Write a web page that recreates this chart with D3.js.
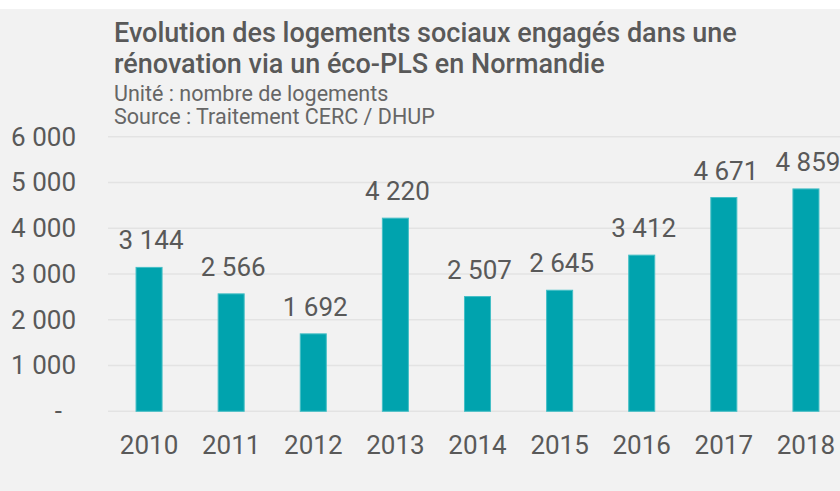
<!DOCTYPE html>
<html lang="fr">
<head>
  <meta charset="UTF-8">
  <title>Logements sociaux éco-PLS Normandie</title>
  <script src="https://d3js.org/d3.v7.min.js"></script>
  <style>
    html, body { margin: 0; padding: 0; background: #fff; }
    svg { display: block; font-family: Roboto, "Noto Sans", sans-serif; }
  </style>
</head>
<body>
  <svg></svg>
  <script>
  // Données (source : Traitement CERC / DHUP)
  const annees = ["2010", "2011", "2012", "2013", "2014", "2015", "2016", "2017", "2018"];
  const logements = [3144, 2566, 1692, 4220, 2507, 2645, 3412, 4671, 4859];
  const graduations = [0, 1000, 2000, 3000, 4000, 5000, 6000];
  const titre = ["Evolution des logements sociaux engagés dans une",
                 "rénovation via un éco-PLS en Normandie"];
  const sousTitre = ["Unité : nombre de logements", "Source : Traitement CERC / DHUP"];

  const width = 840, height = 491;
  const gris = "#595959";

  const svg = d3.select("svg")
    .attr("width", width)
    .attr("height", height);

  // fond gris sous une fine bande blanche
  svg.append("rect")
    .attr("x", 0).attr("y", 9)
    .attr("width", width).attr("height", height - 9)
    .attr("fill", "#f2f2f2");

  // titre et sous-titre
  svg.append("g").selectAll("text")
    .data(titre)
    .join("text")
      .attr("x", 114)
      .attr("y", (d, i) => 42 + i * 31)
      .attr("font-size", "27px")
      .attr("font-weight", 500)
      .attr("fill", gris)
      .text(d => d);

  svg.append("g").selectAll("text")
    .data(sousTitre)
    .join("text")
      .attr("x", 114)
      .attr("y", (d, i) => 101 + i * 23)
      .attr("font-size", "21.5px")
      .attr("fill", "#666")
      .text(d => d);

  const x = d3.scaleBand()
    .domain(annees)
    .range([108, 847])
    .paddingInner(0.683)
    .paddingOuter(0.3415);

  const y = d3.scaleLinear()
    .domain([0, 6000])
    .range([411.3, 136.7]);

  const fmt = v => v === 0 ? "-" : d3.format(",")(v).replace(/,/g, " ");

  // lignes de grille
  svg.append("g").selectAll("line")
    .data(graduations)
    .join("line")
      .attr("x1", 108).attr("x2", width)
      .attr("y1", d => y(d)).attr("y2", d => y(d))
      .attr("stroke", "#e3e3e3")
      .attr("stroke-width", 1.5);

  // axe des ordonnées
  const axeY = svg.append("g")
    .attr("transform", "translate(76,0)")
    .call(d3.axisLeft(y).tickValues(graduations).tickFormat(fmt).tickSize(0).tickPadding(0));
  axeY.select(".domain").remove();
  axeY.selectAll("text")
    .attr("font-family", "Roboto, sans-serif")
    .attr("font-size", "26px")
    .attr("fill", gris)
    .attr("dx", d => d === 0 ? -14 : 0);

  // axe des abscisses
  const axeX = svg.append("g")
    .attr("transform", `translate(0,${y(0)})`)
    .call(d3.axisBottom(x).tickSize(0).tickPadding(24));
  axeX.select(".domain").remove();
  axeX.selectAll("text")
    .attr("font-family", "Roboto, sans-serif")
    .attr("font-size", "26px")
    .attr("fill", gris);

  // barres
  svg.append("g").selectAll("rect")
    .data(logements)
    .join("rect")
      .attr("x", (d, i) => x(annees[i]))
      .attr("y", d => y(d))
      .attr("width", x.bandwidth())
      .attr("height", d => y(0) - y(d))
      .attr("fill", "#00a3ae")
      .attr("stroke", "#45bfc6")
      .attr("stroke-width", 1);

  // étiquettes de valeurs
  svg.append("g").selectAll("text")
    .data(logements)
    .join("text")
      .attr("x", (d, i) => x(annees[i]) + x.bandwidth() / 2 + 2)
      .attr("y", d => y(d) - 18)
      .attr("text-anchor", "middle")
      .attr("font-size", "26px")
      .attr("fill", gris)
      .text(fmt);
  </script>
</body>
</html>
